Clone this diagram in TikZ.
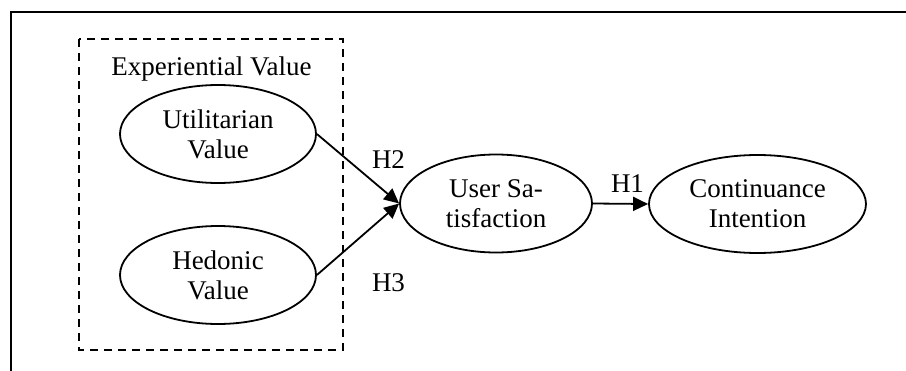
\documentclass[tikz,border=0pt]{standalone}
\usepackage{fontspec}
\setmainfont{Liberation Serif}
\usetikzlibrary{shapes.geometric,arrows.meta}
\begin{document}
\begin{tikzpicture}[x=1pt,y=-1pt,
  construct/.style={ellipse,draw,line width=1.8pt,inner sep=0pt,align=center,
    minimum height=98pt,font=\fontsize{27}{30}\selectfont},
  lbl/.style={anchor=base,inner sep=0pt,font=\fontsize{27}{30}\selectfont},
  link/.style={line width=1.8pt,-{Triangle[length=15pt,width=14pt]}},
  frameline/.style={line width=2pt},
  groupbox/.style={line width=1.8pt,dash pattern=on 8pt off 6pt}]
\useasboundingbox (0,0) rectangle (906,370);
\fill[white] (0,0) rectangle (906,370);
\draw[frameline] (907,12) -- (11,12) -- (11,371);
\draw[groupbox] (79,39) rectangle (343,350);
\node[lbl] (ev) at (211.5,75) {Experiential Value};
\node[construct,minimum width=196pt] (util) at (218,134) {Utilitarian\\Value};
\node[construct,minimum width=196pt] (hed) at (218,275) {Hedonic\\Value};
\node[construct,minimum width=192pt] (us) at (496,203.5) {User Sa-\\tisfaction};
\node[construct,minimum width=217pt] (ci) at (757.5,204) {Continuance\\Intention};
\draw[link] (util.east) -- (us.west);
\draw[link] (hed.east) -- (us.west);
\draw[link] (us.east) -- (ci.west);
\node[lbl] (h2) at (388.5,168) {H2};
\node[lbl] (h3) at (388.5,291) {H3};
\node[lbl] (h1) at (627.5,192) {H1};
\end{tikzpicture}
\end{document}
